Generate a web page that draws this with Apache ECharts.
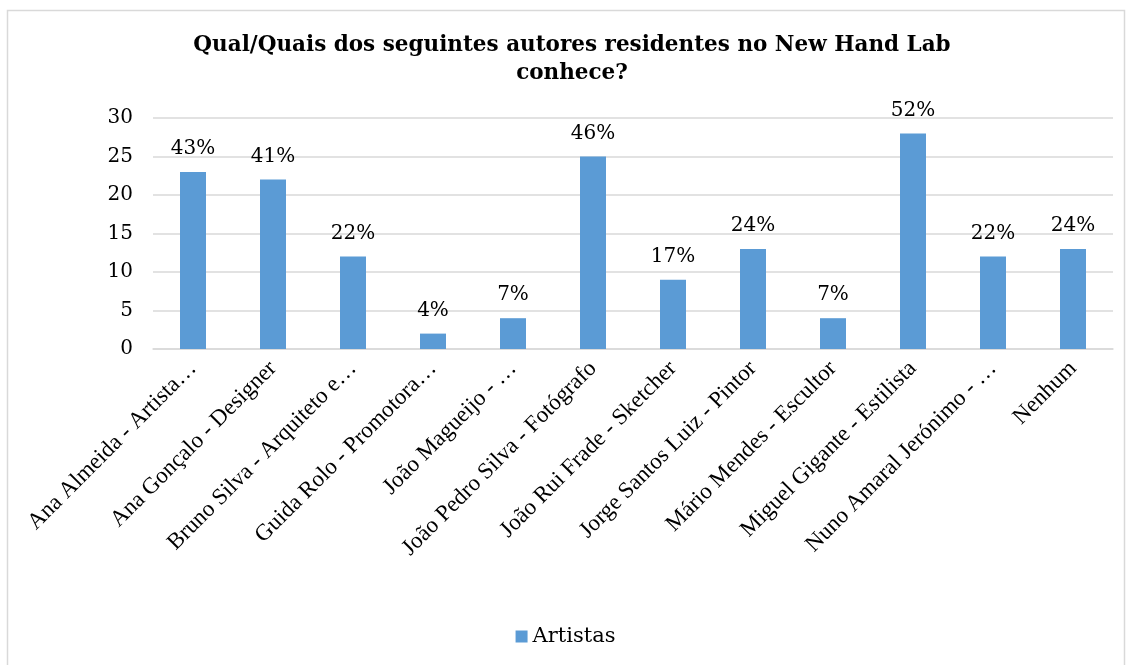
<!DOCTYPE html>
<html><head><meta charset="utf-8">
<script src="https://cdn.jsdelivr.net/npm/echarts@6/dist/echarts.min.js"></script>
<style>html,body{margin:0;padding:0;background:#fff}#c{width:1131px;height:665px}</style>
</head><body><div id="c"></div>
<script>
const categories = ["Ana Almeida - Artista…","Ana Gonçalo - Designer","Bruno Silva - Arquiteto e…","Guida Rolo - Promotora…","João Magueijo - …","João Pedro Silva - Fotógrafo","João Rui Frade - Sketcher","Jorge Santos Luiz - Pintor","Mário Mendes - Escultor","Miguel Gigante - Estilista","Nuno Amaral Jerónimo - …","Nenhum"];
const values = [23,22,12,2,4,25,9,13,4,28,12,13];
const pctLabels = ["43%","41%","22%","4%","7%","46%","17%","24%","7%","52%","22%","24%"];
const yTicks = [0,5,10,15,20,25,30];

const chart = echarts.init(document.getElementById('c'));
chart.setOption({
  animation:false,
  title:{text:'Qual/Quais dos seguintes autores residentes no New Hand Lab\nconhece?',left:567,textAlign:'center',top:26,
    textStyle:{fontFamily:'DejaVu Serif',fontWeight:'bold',fontSize:21.5,color:'#000',lineHeight:28}},
  graphic:[{type:'rect',shape:{x:7.5,y:10.5,width:1117,height:660},style:{fill:'none',stroke:'#d9d9d9',lineWidth:1.5},silent:true}],
  legend:{data:['Artistas'],left:'center',top:621,itemWidth:12,itemHeight:12,itemGap:6,icon:'rect',
    textStyle:{fontFamily:'DejaVu Serif',fontSize:21,color:'#000'}},
  grid:{left:153,right:18,top:118,bottom:316,containLabel:false},
  xAxis:{type:'category',data:categories,
    axisLine:{lineStyle:{color:'#d9d9d9',width:1.5}},axisTick:{show:false},
    axisLabel:{rotate:45,interval:0,margin:16,fontFamily:'Liberation Serif',fontSize:23,color:'#000'}},
  yAxis:{type:'value',min:0,max:30,interval:5,
    axisLine:{show:false},axisTick:{show:false},
    splitLine:{lineStyle:{color:'#d9d9d9',width:1.5}},
    axisLabel:{margin:20,fontFamily:'DejaVu Serif',fontSize:20,color:'#000',
      formatter:v=>yTicks.includes(v)?String(v):''}},
  series:[{name:'Artistas',type:'bar',data:values,barWidth:26,
    itemStyle:{color:'#5b9bd5'},
    label:{show:true,position:'top',distance:13,fontFamily:'DejaVu Serif',fontSize:20,color:'#000',
      formatter:p=>pctLabels[p.dataIndex]}}]
});
</script></body></html>
